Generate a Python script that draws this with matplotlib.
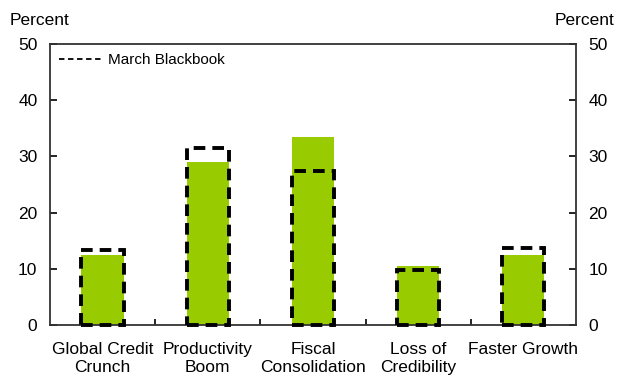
import numpy as np
import matplotlib.pyplot as plt
from matplotlib.lines import Line2D

categories = ['Global Credit\nCrunch', 'Productivity\nBoom', 'Fiscal\nConsolidation',
              'Loss of\nCredibility', 'Faster Growth']
current = [12.5, 29.0, 33.4, 10.5, 12.5]
march_blackbook = [13.3, 31.5, 27.4, 9.8, 13.7]

plt.rcParams['font.family'] = ['Liberation Sans', 'DejaVu Sans']

fig = plt.figure(figsize=(6.24, 3.85), dpi=100)
ax = fig.add_axes([0.080, 0.156, 0.843, 0.730])

x = np.arange(len(categories))
ax.bar(x, current, width=0.4, color='#99cc00', zorder=2)
ax.bar(x, march_blackbook, width=0.4, fill=False, edgecolor='black',
       linestyle=(0, (3, 1.8)), linewidth=2.8, zorder=3, clip_on=False)

ax.set_xlim(-0.5, len(categories) - 0.5)
ax.set_ylim(0, 50)
ax.set_yticks(range(0, 51, 10))
ax.tick_params(axis='y', direction='in', length=5, labelsize=12.5, width=1.2,
               left=True, right=True, labelleft=True, labelright=True, pad=9)
ax.set_xticks(x[:-1] + 0.5, minor=True)
ax.set_xticks(x)
ax.set_xticklabels(categories, fontsize=12.5, linespacing=1.3)
ax.tick_params(axis='x', which='major', length=0, pad=12)
ax.tick_params(axis='x', which='minor', direction='in', length=4, width=1.2)
for s in ax.spines.values():
    s.set_linewidth(1.3)
    s.set_color('#333333')

fig.text(0.016, 0.935, 'Percent', fontsize=12.5)
fig.text(0.984, 0.935, 'Percent', fontsize=12.5, ha='right')

handle = Line2D([], [], color='black', linestyle=(0, (3, 2)), linewidth=1.3)
ax.legend([handle], ['March Blackbook'], loc='upper left', frameon=False,
          fontsize=11, handlelength=2.8, borderaxespad=0.2, handletextpad=0.4)

fig.savefig('out.png', dpi=100)
